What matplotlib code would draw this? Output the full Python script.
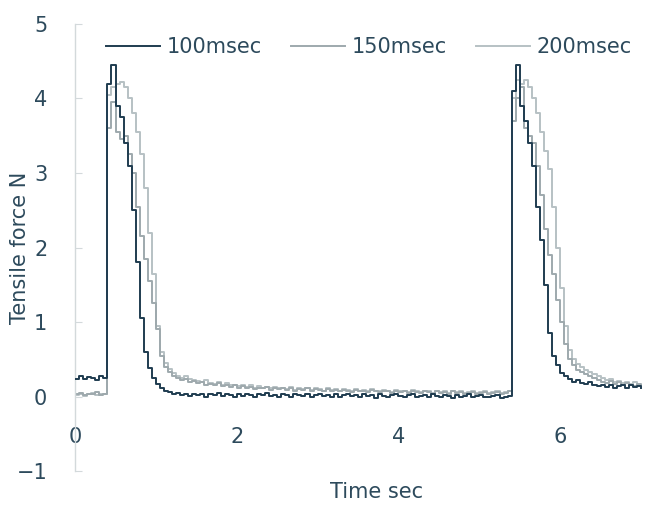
import numpy as np
import matplotlib
matplotlib.use("Agg")
import matplotlib.pyplot as plt

# time axis, one sample every 0.05 s
time_sec = np.round(np.arange(0, 7.001, 0.05), 2)

series_names = ["100msec", "150msec", "200msec"]

force_100 = [
    0.24, 0.27, 0.23, 0.26, 0.25, 0.22, 0.27, 0.25, 4.20, 4.45,
    3.90, 3.75, 3.40, 3.10, 2.50, 1.80, 1.05, 0.60, 0.38, 0.25,
    0.17, 0.12, 0.08, 0.06, 0.04, 0.05, 0.02, 0.04, 0.01, 0.03,
    0.02, 0.04, 0.00, 0.03, 0.02, 0.05, 0.01, 0.03, 0.02, 0.00,
    0.03, 0.01, 0.04, 0.02, 0.00, 0.03, 0.02, 0.05, 0.01, 0.02,
    0.00, 0.03, 0.02, -0.01, 0.04, 0.02, 0.01, 0.03, 0.00, 0.02,
    0.04, 0.01, 0.02, 0.00, 0.03, -0.01, 0.02, 0.04, 0.01, 0.02,
    0.00, 0.03, 0.01, 0.02, -0.02, 0.03, 0.01, 0.00, 0.02, 0.03,
    0.01, -0.01, 0.02, 0.03, 0.00, 0.01, 0.02, -0.01, 0.03, 0.01,
    0.00, 0.02, 0.01, -0.02, 0.02, 0.00, 0.01, 0.03, -0.01, 0.01,
    0.02, 0.00, -0.01, 0.01, 0.02, -0.02, 0.00, 0.01, 4.10, 4.45,
    3.90, 3.70, 3.40, 3.10, 2.55, 2.10, 1.50, 0.85, 0.55, 0.42,
    0.32, 0.27, 0.24, 0.20, 0.22, 0.18, 0.17, 0.19, 0.15, 0.14,
    0.16, 0.13, 0.15, 0.12, 0.14, 0.16, 0.12, 0.15, 0.13, 0.14,
    0.12,
]

force_150 = [
    0.03, 0.05, 0.02, 0.04, 0.03, 0.06, 0.02, 0.04, 3.60, 3.95,
    3.55, 3.45, 3.50, 3.25, 3.00, 2.55, 2.15, 1.85, 1.55, 1.25,
    0.90, 0.55, 0.40, 0.33, 0.28, 0.25, 0.22, 0.24, 0.20, 0.21,
    0.18, 0.20, 0.16, 0.17, 0.15, 0.18, 0.14, 0.15, 0.13, 0.15,
    0.12, 0.14, 0.11, 0.13, 0.10, 0.12, 0.11, 0.13, 0.09, 0.11,
    0.10, 0.12, 0.09, 0.11, 0.08, 0.10, 0.09, 0.11, 0.08, 0.10,
    0.09, 0.07, 0.10, 0.08, 0.09, 0.07, 0.09, 0.08, 0.06, 0.09,
    0.07, 0.08, 0.06, 0.09, 0.07, 0.06, 0.08, 0.07, 0.05, 0.08,
    0.06, 0.07, 0.05, 0.08, 0.06, 0.05, 0.07, 0.06, 0.04, 0.07,
    0.05, 0.06, 0.04, 0.07, 0.05, 0.06, 0.04, 0.05, 0.06, 0.04,
    0.05, 0.06, 0.04, 0.05, 0.06, 0.04, 0.05, 0.07, 3.70, 4.00,
    4.15, 3.60, 3.50, 3.40, 3.10, 2.70, 2.25, 1.90, 1.65, 1.30,
    1.00, 0.70, 0.50, 0.42, 0.36, 0.33, 0.30, 0.27, 0.25, 0.22,
    0.20, 0.18, 0.21, 0.17, 0.19, 0.15, 0.18, 0.16, 0.14, 0.17,
    0.15,
]

force_200 = [
    0.02, 0.04, 0.01, 0.03, 0.05, 0.02, 0.04, 0.03, 4.05, 4.15,
    4.20, 4.22, 4.15, 4.00, 3.80, 3.55, 3.25, 2.80, 2.20, 1.65,
    0.95, 0.60, 0.45, 0.37, 0.31, 0.28, 0.25, 0.27, 0.23, 0.22,
    0.21, 0.19, 0.22, 0.18, 0.17, 0.19, 0.16, 0.18, 0.15, 0.16,
    0.14, 0.15, 0.13, 0.16, 0.12, 0.14, 0.12, 0.13, 0.11, 0.13,
    0.11, 0.12, 0.10, 0.13, 0.09, 0.11, 0.10, 0.12, 0.09, 0.11,
    0.10, 0.08, 0.11, 0.09, 0.10, 0.08, 0.10, 0.09, 0.07, 0.10,
    0.08, 0.09, 0.07, 0.10, 0.08, 0.07, 0.09, 0.08, 0.06, 0.09,
    0.07, 0.08, 0.06, 0.09, 0.07, 0.06, 0.08, 0.07, 0.05, 0.08,
    0.06, 0.07, 0.05, 0.08, 0.06, 0.07, 0.05, 0.06, 0.07, 0.05,
    0.06, 0.07, 0.05, 0.06, 0.07, 0.05, 0.06, 0.08, 4.00, 4.25,
    4.20, 4.25, 4.15, 4.00, 3.80, 3.55, 3.30, 3.05, 2.55, 2.00,
    1.45, 0.95, 0.62, 0.50, 0.44, 0.40, 0.36, 0.33, 0.30, 0.28,
    0.25, 0.22, 0.24, 0.20, 0.21, 0.18, 0.20, 0.17, 0.19, 0.16,
    0.15,
]

x_ticks = [0, 2, 4, 6]
y_ticks = [-1, 0, 1, 2, 3, 4, 5]

text_color = "#2d4a5c"
colors = ["#1f3c50", "#9ea9ad", "#b7c1c4"]

fig = plt.figure(figsize=(6.53, 5.05), dpi=100)
ax = fig.add_axes([0.115, 0.0673, 0.879, 0.8852])

series = [force_100, force_150, force_200]
lines = []
for name, vals, col, z in zip(series_names, series, colors, [3, 2, 1]):
    ln, = ax.plot(time_sec, vals, color=col, lw=1.4, drawstyle="steps-post",
                  label=name, zorder=z)
    lines.append(ln)

ax.set_xlim(0, 7.1)
ax.set_ylim(-1, 5)
ax.set_xticks(x_ticks)
ax.set_yticks(y_ticks)
ax.set_yticklabels(["\u22121" if v < 0 else str(v) for v in y_ticks])

for s in ["top", "right", "bottom"]:
    ax.spines[s].set_visible(False)
ax.spines["left"].set_color("#d3d9db")
ax.spines["left"].set_linewidth(1.0)

ax.tick_params(axis="y", direction="in", length=5, color="#d3d9db",
               labelsize=15, labelcolor=text_color, pad=20)
# x labels sit between 0 and -1
ax.tick_params(axis="x", length=0, labelsize=15, labelcolor=text_color, pad=-32)
ax.set_xlabel("Time sec", fontsize=15, color=text_color)
ax.xaxis.set_label_coords(0.526, -0.025)
ax.set_ylabel("Tensile force N", fontsize=15, color=text_color)
ax.yaxis.set_label_coords(-0.078, 0.5)

leg = ax.legend(handles=lines, loc="upper center", ncol=3, frameon=False,
                fontsize=15, handlelength=2.6, handletextpad=0.3,
                columnspacing=1.4, bbox_to_anchor=(0.512, 1.012),
                labelcolor=text_color)

fig.savefig("out.png", dpi=100)
